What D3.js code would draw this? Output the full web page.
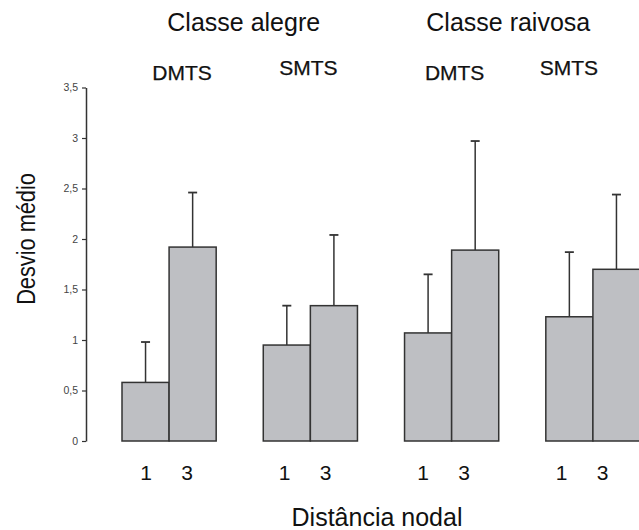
<!DOCTYPE html>
<html>
<head>
<meta charset="utf-8">
<script src="https://cdn.jsdelivr.net/npm/d3@7"></script>
<style>
  html, body { margin: 0; padding: 0; background: #fff; }
  svg { display: block; font-family: 'Liberation Sans', Arial, sans-serif; }
</style>
</head>
<body>
<div id="chart"></div>
<script>
  // groups: Classe alegre (DMTS, SMTS), Classe raivosa (DMTS, SMTS)
  const groups = ['alegre-DMTS', 'alegre-SMTS', 'raivosa-DMTS', 'raivosa-SMTS'];
  const taskLabels = ['DMTS', 'SMTS', 'DMTS', 'SMTS'];
  const classLabels = ['Classe alegre', 'Classe raivosa'];
  const distances = ['1', '3'];
  const means = [
    [0.58, 1.92],
    [0.95, 1.34],
    [1.07, 1.89],
    [1.23, 1.70]
  ];
  const upper = [
    [0.98, 2.46],
    [1.34, 2.04],
    [1.65, 2.97],
    [1.87, 2.44]
  ];
  const yTicks = [0, 0.5, 1, 1.5, 2, 2.5, 3, 3.5];

  const width = 639;
  const height = 530;
  const BAR_FILL = '#bebfc3';
  const INK = '#333';

  const svg = d3.select('#chart')
    .append('svg')
    .attr('width', width)
    .attr('height', height);

  const y = d3.scaleLinear().domain([0, 3.5]).range([441, 87.5]);
  const x = d3.scaleBand().domain(groups).range([122, 640]).paddingInner(1 / 3).paddingOuter(0);
  const xi = d3.scaleBand().domain(distances).range([0, x.bandwidth()]).padding(0);
  // the digit row under the bars sits a little tighter than the bars themselves
  const labelX = d3.scaleLinear().domain([0, width]).range([1, 1 + 0.98 * width]);
  const labelSpread = d3.scalePoint().domain(distances).range([-20.5, 20.5]);

  // y axis
  const yAxis = svg.append('g')
    .attr('transform', 'translate(86,0)')
    .call(d3.axisLeft(y).tickValues(yTicks).tickSize(4).tickSizeOuter(0).tickPadding(4)
      .tickFormat((d) => String(d).replace('.', ',')));
  yAxis.select('.domain').attr('stroke', INK).attr('stroke-width', 1.5);
  yAxis.selectAll('.tick line').attr('stroke', INK).attr('stroke-width', 1.2);
  yAxis.selectAll('.tick text')
    .attr('fill', '#444')
    .style('font-size', '10.5px')
    .style('font-family', "'Liberation Sans', Arial, sans-serif");

  const rows = [];
  groups.forEach((g, gi) => {
    distances.forEach((dist, di) => {
      rows.push({ g, dist, mean: means[gi][di], hi: upper[gi][di] });
    });
  });

  const bar = svg.selectAll('.bar')
    .data(rows)
    .enter()
    .append('g')
    .attr('class', 'bar')
    .attr('transform', (d) => `translate(${x(d.g) + xi(d.dist)},0)`);

  // error bars first so the bar outline sits on top
  bar.append('line')
    .attr('x1', xi.bandwidth() / 2)
    .attr('x2', xi.bandwidth() / 2)
    .attr('y1', (d) => y(d.mean))
    .attr('y2', (d) => y(d.hi))
    .attr('stroke', INK)
    .attr('stroke-width', 1.5);
  bar.append('line')
    .attr('x1', xi.bandwidth() / 2 - 4.5)
    .attr('x2', xi.bandwidth() / 2 + 4.5)
    .attr('y1', (d) => y(d.hi))
    .attr('y2', (d) => y(d.hi))
    .attr('stroke', INK)
    .attr('stroke-width', 1.8);

  bar.append('rect')
    .attr('x', 0)
    .attr('y', (d) => y(d.mean))
    .attr('width', xi.bandwidth())
    .attr('height', (d) => y(0) - y(d.mean))
    .attr('fill', BAR_FILL)
    .attr('stroke', INK)
    .attr('stroke-width', 1.5);

  // distance labels under each bar
  svg.selectAll('.dist')
    .data(rows)
    .enter()
    .append('text')
    .attr('class', 'dist')
    .attr('x', (d) => labelX(x(d.g) + x.bandwidth() / 2) + labelSpread(d.dist))
    .attr('y', 480)
    .attr('text-anchor', 'middle')
    .attr('fill', '#111')
    .style('font-size', '21px')
    .text((d) => d.dist);

  // task labels over each group
  const taskDx = [13, -2, 3, -24];
  const taskY = [80, 75, 80, 75];
  svg.selectAll('.task')
    .data(groups)
    .enter()
    .append('text')
    .attr('class', 'task')
    .attr('x', (d, i) => x(d) + x.bandwidth() / 2 + taskDx[i])
    .attr('y', (d, i) => taskY[i])
    .attr('text-anchor', 'middle')
    .attr('fill', '#111')
    .attr('stroke', '#111')
    .attr('stroke-width', 0.25)
    .style('font-size', '21px')
    .text((d, i) => taskLabels[i]);

  // class titles span two groups each
  const classDx = [4, -14];
  svg.selectAll('.cls')
    .data(classLabels)
    .enter()
    .append('text')
    .attr('class', 'cls')
    .attr('x', (d, i) => (x(groups[i * 2]) + x(groups[i * 2 + 1]) + x.bandwidth()) / 2 + classDx[i])
    .attr('y', 31)
    .attr('text-anchor', 'middle')
    .attr('fill', '#111')
    .style('font-size', '25px')
    .text((d) => d);

  svg.append('text')
    .attr('transform', 'translate(35,239) rotate(-90) scale(0.87,1)')
    .attr('text-anchor', 'middle')
    .attr('fill', '#111')
    .style('font-size', '25px')
    .text('Desvio médio');

  svg.append('text')
    .attr('x', 377)
    .attr('y', 526)
    .attr('text-anchor', 'middle')
    .attr('fill', '#111')
    .style('font-size', '25px')
    .text('Distância nodal');
</script>
</body>
</html>
